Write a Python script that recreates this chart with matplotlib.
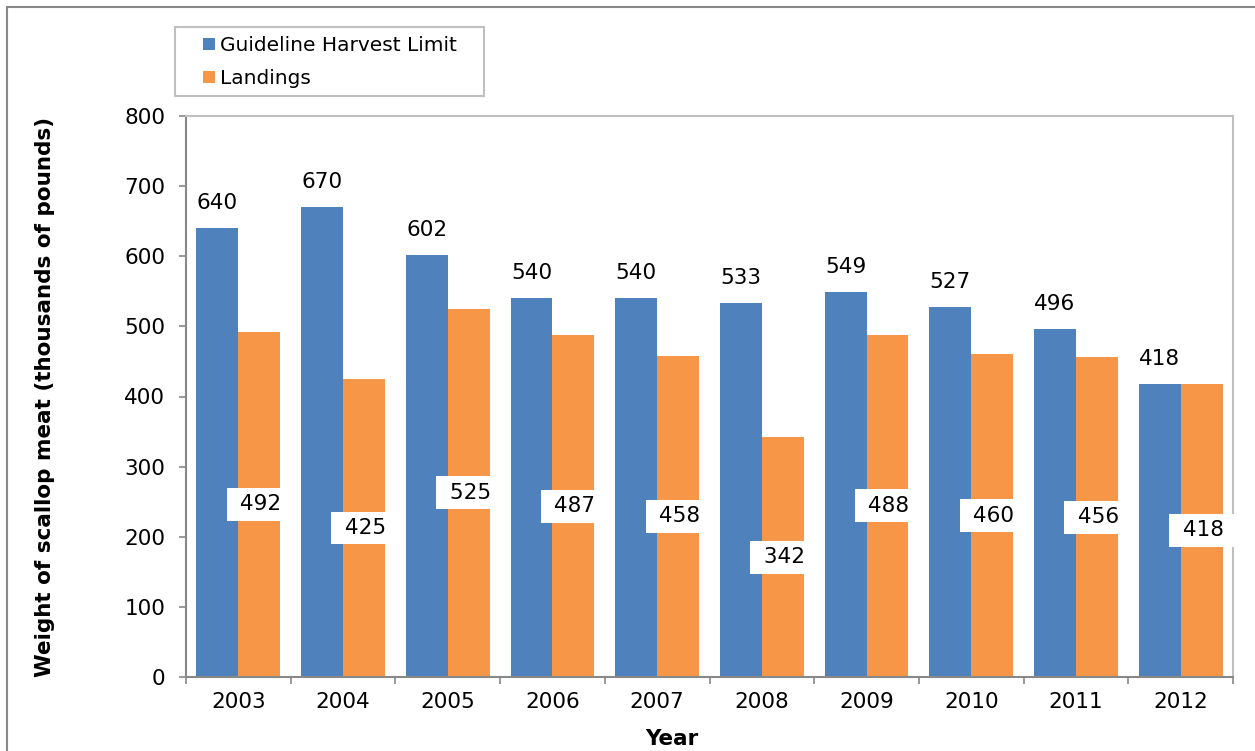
import numpy as np
import matplotlib.pyplot as plt
from matplotlib.patches import Rectangle

# Dados
years = ['2003', '2004', '2005', '2006', '2007', '2008', '2009', '2010', '2011', '2012']
ghl = [640, 670, 602, 540, 540, 533, 549, 527, 496, 418]
landings = [492, 425, 525, 487, 458, 342, 488, 460, 456, 418]

blue = '#4F81BD'
orange = '#F79646'
fs = 15.5

plt.rcParams['font.family'] = 'DejaVu Sans'

fig = plt.figure(figsize=(12.55, 7.51), dpi=100)
ax = fig.add_axes([186/1255, 1 - 677/751, (1233 - 186)/1255, (677 - 116)/751])

x = np.arange(len(years))
w = 0.4
b1 = ax.bar(x - w/2, ghl, w, color=blue, label='Guideline Harvest Limit', zorder=2)
b2 = ax.bar(x + w/2, landings, w, color=orange, label='Landings', zorder=2)

# rótulos do limite acima das barras
for xi, v in zip(x, ghl):
    ax.annotate(str(v), (xi - w/2, v), xytext=(0, 18), textcoords='offset points',
                ha='center', va='center', fontsize=fs, zorder=4)

# rótulos dos desembarques no meio das barras, com caixa branca
for xi, v in zip(x, landings):
    ax.annotate(f' {v} ', (xi + w/2, v/2), xytext=(1, 0), textcoords='offset points',
                ha='center', va='center', fontsize=fs, zorder=4,
                bbox=dict(boxstyle='square,pad=0.3', fc='white', ec='none'))

ax.set_xlim(-0.5, len(years) - 0.5)
ax.set_ylim(0, 800)
ax.set_yticks(np.arange(0, 801, 100))
ax.set_xticks(x)
ax.set_xticklabels(years)
ax.set_xticks(np.arange(-0.5, len(years), 1), minor=True)
ax.tick_params(axis='x', which='major', length=0, pad=11, labelsize=fs)
ax.tick_params(axis='x', which='minor', length=5, width=1.2, color='#888888', direction='out')
ax.tick_params(axis='y', length=5, width=1.2, color='#888888', direction='out', pad=10, labelsize=fs)

for s in ['left', 'bottom']:
    ax.spines[s].set_color('#888888')
    ax.spines[s].set_linewidth(1.5)
for s in ['top', 'right']:
    ax.spines[s].set_color('#c0c0c0')
    ax.spines[s].set_linewidth(1.5)

ax.set_ylabel('Weight of scallop meat (thousands of pounds)', fontsize=fs, fontweight='bold')
ax.yaxis.set_label_coords(-0.125, 0.5)
ax.set_xlabel('Year', fontsize=fs, fontweight='bold')
ax.xaxis.set_label_coords(0.464, -0.092)

# legenda com caixa desenhada à parte
fig.patches.append(Rectangle((175/1255, 1 - 96/751), (484 - 175)/1255, (96 - 27)/751,
                             transform=fig.transFigure, fill=False, ec='#c0c0c0', lw=1.5))
fig.legend(handles=[b1, b2], loc='upper left', bbox_to_anchor=(203/1255, 1 - 36/751),
           fontsize=14.5, frameon=False, handlelength=0.6, handleheight=0.6,
           handletextpad=0.25, labelspacing=0.7, borderpad=0, borderaxespad=0)

# moldura externa
fig.patches.append(Rectangle((7/1255, -0.1), 1.2, 1 - 7/751 + 0.1, transform=fig.transFigure,
                             fill=False, ec='#888888', lw=1.5))

plt.savefig('out.png', dpi=100)
